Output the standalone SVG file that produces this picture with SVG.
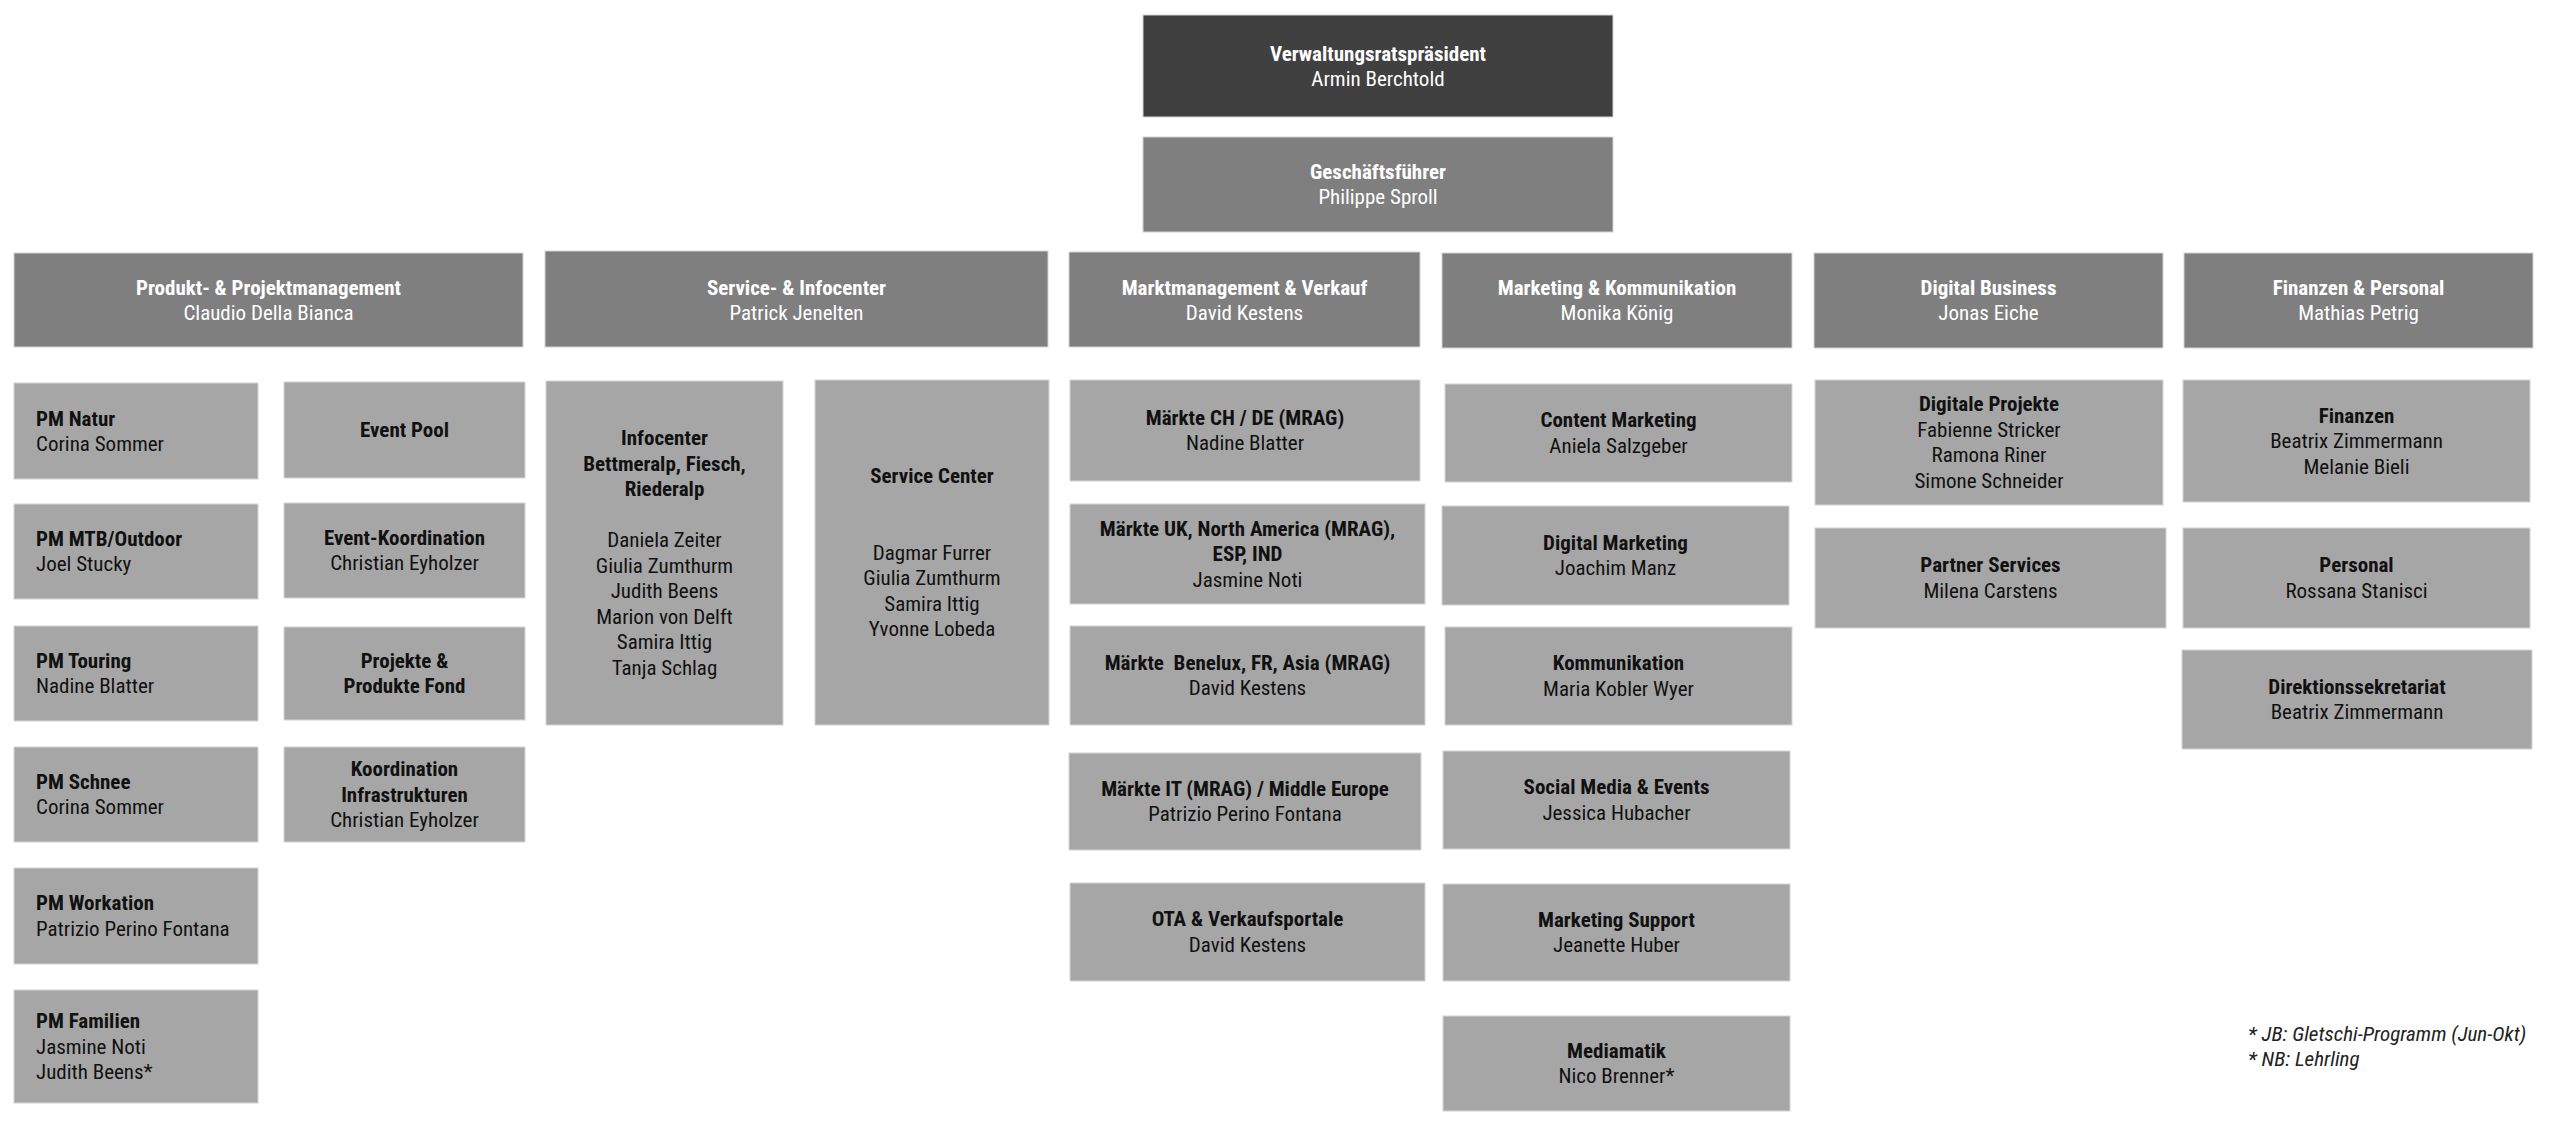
<svg xmlns="http://www.w3.org/2000/svg" width="2560" height="1140" viewBox="0 0 2560 1140">
<style>
text{font-family:"Roboto Condensed","Liberation Sans Narrow","DejaVu Sans Condensed",Roboto,sans-serif;font-size:21px}
.b{font-weight:bold}
.top{fill:#404040}
.mid{fill:#7f7f7f}
.leaf{fill:#a6a6a6}
.top,.mid,.leaf{stroke:#d4d4d4;stroke-width:1}
.w{fill:#ffffff}
.k{fill:#111111}
.c{text-anchor:middle}
.fn{font-style:italic;fill:#222222}
</style>
<rect x="0" y="0" width="2560" height="1140" fill="#ffffff"/>
<g id="connectors"/>
<g id="n-vrp"><rect class="top" x="1143" y="15" width="470" height="102"/>
<text class="w c b" x="1378" y="61">Verwaltungsratspräsident</text><text class="w c" x="1378" y="86">Armin Berchtold</text></g>
<g id="n-gf"><rect class="mid" x="1143" y="137" width="470" height="95"/>
<text class="w c b" x="1378" y="179">Geschäftsführer</text><text class="w c" x="1378" y="204">Philippe Sproll</text></g>

<g id="n-ppm"><rect class="mid" x="14" y="253" width="509" height="94"/>
<text class="w c b" x="268.5" y="295">Produkt- &amp; Projektmanagement</text><text class="w c" x="268.5" y="320">Claudio Della Bianca</text></g>
<g id="n-sic"><rect class="mid" x="545" y="251" width="503" height="96"/>
<text class="w c b" x="796.5" y="295">Service- &amp; Infocenter</text><text class="w c" x="796.5" y="320">Patrick Jenelten</text></g>
<g id="n-mv"><rect class="mid" x="1069" y="252" width="351" height="95"/>
<text class="w c b" x="1244.5" y="295">Marktmanagement &amp; Verkauf</text><text class="w c" x="1244.5" y="320">David Kestens</text></g>
<g id="n-mk"><rect class="mid" x="1442" y="253" width="350" height="95"/>
<text class="w c b" x="1617" y="295">Marketing &amp; Kommunikation</text><text class="w c" x="1617" y="320">Monika König</text></g>
<g id="n-db"><rect class="mid" x="1814" y="253" width="349" height="95"/>
<text class="w c b" x="1988.5" y="295">Digital Business</text><text class="w c" x="1988.5" y="320">Jonas Eiche</text></g>
<g id="n-fp"><rect class="mid" x="2184" y="253" width="349" height="95"/>
<text class="w c b" x="2358.5" y="295">Finanzen &amp; Personal</text><text class="w c" x="2358.5" y="320">Mathias Petrig</text></g>

<g id="n-pm-natur"><rect class="leaf" x="14" y="383" width="244" height="96"/>
<text class="k b" x="36" y="425.75">PM Natur</text><text class="k" x="36" y="451.25">Corina Sommer</text></g>
<g id="n-pm-mtb"><rect class="leaf" x="14" y="504" width="244" height="95"/>
<text class="k b" x="36" y="545.75">PM MTB/Outdoor</text><text class="k" x="36" y="571.25">Joel Stucky</text></g>
<g id="n-pm-touring"><rect class="leaf" x="14" y="626" width="244" height="95"/>
<text class="k b" x="36" y="667.75">PM Touring</text><text class="k" x="36" y="693.25">Nadine Blatter</text></g>
<g id="n-pm-schnee"><rect class="leaf" x="14" y="747" width="244" height="95"/>
<text class="k b" x="36" y="788.75">PM Schnee</text><text class="k" x="36" y="814.25">Corina Sommer</text></g>
<g id="n-pm-workation"><rect class="leaf" x="14" y="868" width="244" height="96"/>
<text class="k b" x="36" y="910.25">PM Workation</text><text class="k" x="36" y="935.75">Patrizio Perino Fontana</text></g>
<g id="n-pm-familien"><rect class="leaf" x="14" y="990" width="244" height="113"/>
<text class="k b" x="36" y="1028">PM Familien</text><text class="k" x="36" y="1053.5">Jasmine Noti</text><text class="k" x="36" y="1079">Judith Beens*</text></g>

<g id="n-eventpool"><rect class="leaf" x="284" y="382" width="241" height="96"/>
<text class="k c b" x="404.5" y="437">Event Pool</text></g>
<g id="n-eventkoord"><rect class="leaf" x="284" y="503" width="241" height="95"/>
<text class="k c b" x="404.5" y="544.75">Event-Koordination</text><text class="k c" x="404.5" y="570.25">Christian Eyholzer</text></g>
<g id="n-projekte"><rect class="leaf" x="284" y="627" width="241" height="93"/>
<text class="k c b" x="404.5" y="667.75">Projekte &amp;</text><text class="k c b" x="404.5" y="693.25">Produkte Fond</text></g>
<g id="n-koord-infra"><rect class="leaf" x="284" y="747" width="241" height="95"/>
<text class="k c b" x="404.5" y="776">Koordination</text><text class="k c b" x="404.5" y="801.5">Infrastrukturen</text><text class="k c" x="404.5" y="827">Christian Eyholzer</text></g>

<g id="n-infocenter"><rect class="leaf" x="546" y="381" width="237" height="344"/>
<text class="k c b" x="664.5" y="445.25">Infocenter</text>
<text class="k c b" x="664.5" y="470.75">Bettmeralp, Fiesch,</text>
<text class="k c b" x="664.5" y="496.25">Riederalp</text>
<text class="k c" x="664.5" y="547.25">Daniela Zeiter</text>
<text class="k c" x="664.5" y="572.75">Giulia Zumthurm</text>
<text class="k c" x="664.5" y="598.25">Judith Beens</text>
<text class="k c" x="664.5" y="623.75">Marion von Delft</text>
<text class="k c" x="664.5" y="649.25">Samira Ittig</text>
<text class="k c" x="664.5" y="674.75">Tanja Schlag</text></g>
<g id="n-servicecenter"><rect class="leaf" x="815" y="380" width="234" height="345"/>
<text class="k c b" x="932" y="483">Service Center</text>
<text class="k c" x="932" y="559.5">Dagmar Furrer</text>
<text class="k c" x="932" y="585">Giulia Zumthurm</text>
<text class="k c" x="932" y="610.5">Samira Ittig</text>
<text class="k c" x="932" y="636">Yvonne Lobeda</text></g>

<g id="n-m-chde"><rect class="leaf" x="1070" y="380" width="350" height="101"/>
<text class="k c b" x="1245" y="424.75">Märkte CH / DE (MRAG)</text><text class="k c" x="1245" y="450.25">Nadine Blatter</text></g>
<g id="n-m-uk"><rect class="leaf" x="1070" y="504" width="355" height="100"/>
<text class="k c b" x="1247.5" y="535.5">Märkte UK, North America (MRAG),</text><text class="k c b" x="1247.5" y="561">ESP, IND</text><text class="k c" x="1247.5" y="586.5">Jasmine Noti</text></g>
<g id="n-m-benelux"><rect class="leaf" x="1070" y="626" width="355" height="99"/>
<text class="k c b" x="1247.5" y="669.75" xml:space="preserve">Märkte  Benelux, FR, Asia (MRAG)</text><text class="k c" x="1247.5" y="695.25">David Kestens</text></g>
<g id="n-m-it"><rect class="leaf" x="1069" y="753" width="352" height="97"/>
<text class="k c b" x="1245" y="795.75">Märkte IT (MRAG) / Middle Europe</text><text class="k c" x="1245" y="821.25">Patrizio Perino Fontana</text></g>
<g id="n-ota"><rect class="leaf" x="1070" y="883" width="355" height="98"/>
<text class="k c b" x="1247.5" y="926.25">OTA &amp; Verkaufsportale</text><text class="k c" x="1247.5" y="951.75">David Kestens</text></g>

<g id="n-content"><rect class="leaf" x="1445" y="384" width="347" height="98"/>
<text class="k c b" x="1618.5" y="427.25">Content Marketing</text><text class="k c" x="1618.5" y="452.75">Aniela Salzgeber</text></g>
<g id="n-digmkt"><rect class="leaf" x="1442" y="506" width="347" height="99"/>
<text class="k c b" x="1615.5" y="549.75">Digital Marketing</text><text class="k c" x="1615.5" y="575.25">Joachim Manz</text></g>
<g id="n-komm"><rect class="leaf" x="1445" y="627" width="347" height="98"/>
<text class="k c b" x="1618.5" y="670.25">Kommunikation</text><text class="k c" x="1618.5" y="695.75">Maria Kobler Wyer</text></g>
<g id="n-social"><rect class="leaf" x="1443" y="751" width="347" height="98"/>
<text class="k c b" x="1616.5" y="794.25">Social Media &amp; Events</text><text class="k c" x="1616.5" y="819.75">Jessica Hubacher</text></g>
<g id="n-mktsupport"><rect class="leaf" x="1443" y="884" width="347" height="97"/>
<text class="k c b" x="1616.5" y="926.75">Marketing Support</text><text class="k c" x="1616.5" y="952.25">Jeanette Huber</text></g>
<g id="n-mediamatik"><rect class="leaf" x="1443" y="1016" width="347" height="95"/>
<text class="k c b" x="1616.5" y="1057.75">Mediamatik</text><text class="k c" x="1616.5" y="1083.25">Nico Brenner*</text></g>

<g id="n-digprojekte"><rect class="leaf" x="1815" y="380" width="348" height="125"/>
<text class="k c b" x="1989" y="411.25">Digitale Projekte</text>
<text class="k c" x="1989" y="436.75">Fabienne Stricker</text>
<text class="k c" x="1989" y="462.25">Ramona Riner</text>
<text class="k c" x="1989" y="487.75">Simone Schneider</text></g>
<g id="n-partner"><rect class="leaf" x="1815" y="528" width="351" height="100"/>
<text class="k c b" x="1990.5" y="572.25">Partner Services</text><text class="k c" x="1990.5" y="597.75">Milena Carstens</text></g>

<g id="n-finanzen"><rect class="leaf" x="2183" y="380" width="347" height="122"/>
<text class="k c b" x="2356.5" y="422.5">Finanzen</text>
<text class="k c" x="2356.5" y="448">Beatrix Zimmermann</text>
<text class="k c" x="2356.5" y="473.5">Melanie Bieli</text></g>
<g id="n-personal"><rect class="leaf" x="2183" y="528" width="347" height="100"/>
<text class="k c b" x="2356.5" y="572.25">Personal</text><text class="k c" x="2356.5" y="597.75">Rossana Stanisci</text></g>
<g id="n-direktion"><rect class="leaf" x="2182" y="650" width="350" height="99"/>
<text class="k c b" x="2357" y="693.75">Direktionssekretariat</text><text class="k c" x="2357" y="719.25">Beatrix Zimmermann</text></g>

<g id="footnotes">
<text class="fn" x="2248" y="1041">* JB: Gletschi-Programm (Jun-Okt)</text>
<text class="fn" x="2248" y="1066">* NB: Lehrling</text>
</g>
</svg>
